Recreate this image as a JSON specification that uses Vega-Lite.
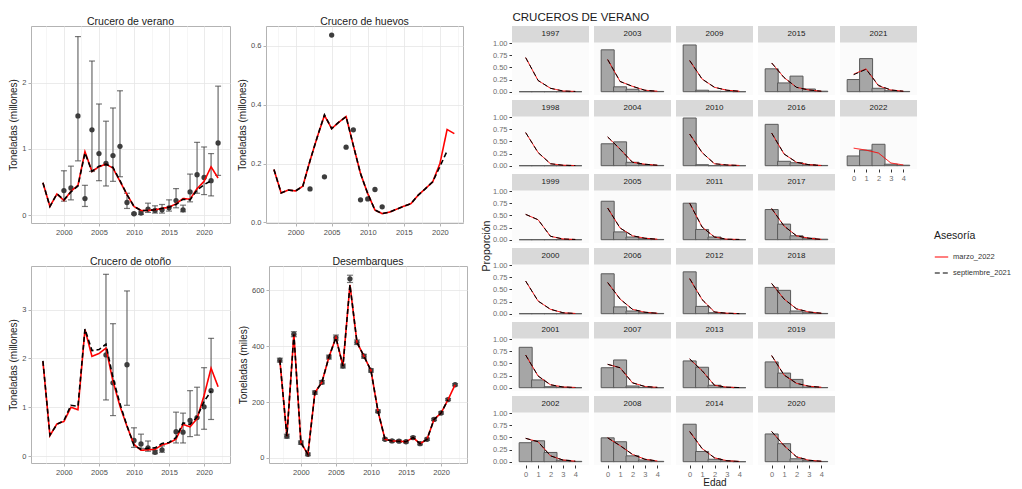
{
"$schema":"https://vega.github.io/schema/vega-lite/v6.json",
"padding":{"left":8,"top":11,"right":5,"bottom":0},
"background":"white",
"config":{
 "font":"Liberation Sans",
 "view":{"stroke":"#B3B3B3","strokeWidth":1,"fill":"white"},
 "axis":{"grid":true,"domain":false,"tickColor":"#B3B3B3","tickSize":3,"labelFontSize":7.5,"labelColor":"#4D4D4D","labelPadding":2,"titleFontSize":10,"titleFontWeight":"normal","titleColor":"#1A1A1A","titlePadding":3,"gridWidth":0.8},
 "title":{"fontSize":10.5,"fontWeight":"normal","color":"#1A1A1A","offset":-1,"anchor":"middle"},
 "header":{"titleFontSize":10.5,"titleFontWeight":"normal","titleColor":"#1A1A1A","titlePadding":-10,"labelPadding":0},
 "legend":{"titleFontSize":10.5,"titleFontWeight":"normal","titleColor":"#1A1A1A","labelFontSize":7.5,"labelColor":"#333333","symbolStrokeWidth":1.2,"symbolSize":180,"rowPadding":5,"titlePadding":8}
},
"datasets":{
"series":[
{"panel":"verano","year":1997,"marzo_2022":0.49,"septiembre_2021":0.49},
{"panel":"verano","year":1998,"marzo_2022":0.13,"septiembre_2021":0.13},
{"panel":"verano","year":1999,"marzo_2022":0.32,"septiembre_2021":0.32},
{"panel":"verano","year":2000,"marzo_2022":0.22,"septiembre_2021":0.23,"obs":0.37,"lo":0.21,"hi":0.67},
{"panel":"verano","year":2001,"marzo_2022":0.36,"septiembre_2021":0.35,"obs":0.41,"lo":0.23,"hi":0.74},
{"panel":"verano","year":2002,"marzo_2022":0.45,"septiembre_2021":0.44,"obs":1.5,"lo":0.82,"hi":2.7},
{"panel":"verano","year":2003,"marzo_2022":0.96,"septiembre_2021":0.94,"obs":0.25,"lo":0.13,"hi":0.45},
{"panel":"verano","year":2004,"marzo_2022":0.66,"septiembre_2021":0.66,"obs":1.29,"lo":0.66,"hi":2.33},
{"panel":"verano","year":2005,"marzo_2022":0.73,"septiembre_2021":0.74,"obs":0.93,"lo":0.52,"hi":1.68},
{"panel":"verano","year":2006,"marzo_2022":0.77,"septiembre_2021":0.77,"obs":0.78,"lo":0.44,"hi":1.42},
{"panel":"verano","year":2007,"marzo_2022":0.71,"septiembre_2021":0.72,"obs":0.9,"lo":0.51,"hi":1.62},
{"panel":"verano","year":2008,"marzo_2022":0.51,"septiembre_2021":0.52,"obs":1.04,"lo":0.58,"hi":1.88},
{"panel":"verano","year":2009,"marzo_2022":0.31,"septiembre_2021":0.31,"obs":0.19,"lo":0.1,"hi":0.33},
{"panel":"verano","year":2010,"marzo_2022":0.13,"septiembre_2021":0.13,"obs":0.02,"lo":0.01,"hi":0.03},
{"panel":"verano","year":2011,"marzo_2022":0.07,"septiembre_2021":0.07,"obs":0.03,"lo":0.01,"hi":0.06},
{"panel":"verano","year":2012,"marzo_2022":0.07,"septiembre_2021":0.07,"obs":0.09,"lo":0.04,"hi":0.18},
{"panel":"verano","year":2013,"marzo_2022":0.08,"septiembre_2021":0.08,"obs":0.07,"lo":0.03,"hi":0.14},
{"panel":"verano","year":2014,"marzo_2022":0.1,"septiembre_2021":0.1,"obs":0.08,"lo":0.03,"hi":0.16},
{"panel":"verano","year":2015,"marzo_2022":0.12,"septiembre_2021":0.12,"obs":0.11,"lo":0.06,"hi":0.23},
{"panel":"verano","year":2016,"marzo_2022":0.17,"septiembre_2021":0.16,"obs":0.22,"lo":0.11,"hi":0.4},
{"panel":"verano","year":2017,"marzo_2022":0.25,"septiembre_2021":0.24,"obs":0.08,"lo":0.05,"hi":0.15},
{"panel":"verano","year":2018,"marzo_2022":0.24,"septiembre_2021":0.23,"obs":0.35,"lo":0.2,"hi":0.62},
{"panel":"verano","year":2019,"marzo_2022":0.4,"septiembre_2021":0.38,"obs":0.61,"lo":0.33,"hi":1.1},
{"panel":"verano","year":2020,"marzo_2022":0.51,"septiembre_2021":0.46,"obs":0.57,"lo":0.31,"hi":1.03},
{"panel":"verano","year":2021,"marzo_2022":0.73,"septiembre_2021":0.52,"obs":0.52,"lo":0.29,"hi":0.93},
{"panel":"verano","year":2022,"marzo_2022":0.56,"septiembre_2021":null,"obs":1.09,"lo":0.6,"hi":1.95},
{"panel":"huevos","year":1997,"marzo_2022":0.18,"septiembre_2021":0.18},
{"panel":"huevos","year":1998,"marzo_2022":0.1,"septiembre_2021":0.1},
{"panel":"huevos","year":1999,"marzo_2022":0.11,"septiembre_2021":0.11},
{"panel":"huevos","year":2000,"marzo_2022":0.107,"septiembre_2021":0.107},
{"panel":"huevos","year":2001,"marzo_2022":0.123,"septiembre_2021":0.123},
{"panel":"huevos","year":2002,"marzo_2022":0.21,"septiembre_2021":0.21,"obs":0.114},
{"panel":"huevos","year":2003,"marzo_2022":0.29,"septiembre_2021":0.29},
{"panel":"huevos","year":2004,"marzo_2022":0.364,"septiembre_2021":0.366,"obs":0.155},
{"panel":"huevos","year":2005,"marzo_2022":0.319,"septiembre_2021":0.319,"obs":0.637},
{"panel":"huevos","year":2006,"marzo_2022":0.341,"septiembre_2021":0.341},
{"panel":"huevos","year":2007,"marzo_2022":0.36,"septiembre_2021":0.36,"obs":0.256},
{"panel":"huevos","year":2008,"marzo_2022":0.262,"septiembre_2021":0.262,"obs":0.315},
{"panel":"huevos","year":2009,"marzo_2022":0.166,"septiembre_2021":0.166,"obs":0.077},
{"panel":"huevos","year":2010,"marzo_2022":0.098,"septiembre_2021":0.098,"obs":0.08},
{"panel":"huevos","year":2011,"marzo_2022":0.042,"septiembre_2021":0.042,"obs":0.112},
{"panel":"huevos","year":2012,"marzo_2022":0.03,"septiembre_2021":0.03,"obs":0.053},
{"panel":"huevos","year":2013,"marzo_2022":0.035,"septiembre_2021":0.035},
{"panel":"huevos","year":2014,"marzo_2022":0.045,"septiembre_2021":0.045},
{"panel":"huevos","year":2015,"marzo_2022":0.055,"septiembre_2021":0.055},
{"panel":"huevos","year":2016,"marzo_2022":0.064,"septiembre_2021":0.064},
{"panel":"huevos","year":2017,"marzo_2022":0.093,"septiembre_2021":0.093},
{"panel":"huevos","year":2018,"marzo_2022":0.115,"septiembre_2021":0.115},
{"panel":"huevos","year":2019,"marzo_2022":0.138,"septiembre_2021":0.138},
{"panel":"huevos","year":2020,"marzo_2022":0.2,"septiembre_2021":0.19},
{"panel":"huevos","year":2021,"marzo_2022":0.316,"septiembre_2021":0.243},
{"panel":"huevos","year":2022,"marzo_2022":0.302,"septiembre_2021":null},
{"panel":"otono","year":1997,"marzo_2022":1.94,"septiembre_2021":1.95},
{"panel":"otono","year":1998,"marzo_2022":0.42,"septiembre_2021":0.43},
{"panel":"otono","year":1999,"marzo_2022":0.66,"septiembre_2021":0.65},
{"panel":"otono","year":2000,"marzo_2022":0.71,"septiembre_2021":0.73},
{"panel":"otono","year":2001,"marzo_2022":1.0,"septiembre_2021":1.04},
{"panel":"otono","year":2002,"marzo_2022":0.95,"septiembre_2021":1.02},
{"panel":"otono","year":2003,"marzo_2022":2.59,"septiembre_2021":2.6},
{"panel":"otono","year":2004,"marzo_2022":2.04,"septiembre_2021":2.16},
{"panel":"otono","year":2005,"marzo_2022":2.1,"septiembre_2021":2.18},
{"panel":"otono","year":2006,"marzo_2022":2.21,"septiembre_2021":2.29,"obs":2.07,"lo":1.15,"hi":3.72},
{"panel":"otono","year":2007,"marzo_2022":1.53,"septiembre_2021":1.6,"obs":1.5,"lo":0.83,"hi":2.71},
{"panel":"otono","year":2008,"marzo_2022":1.02,"septiembre_2021":1.07},
{"panel":"otono","year":2009,"marzo_2022":0.61,"septiembre_2021":0.62,"obs":1.87,"lo":1.04,"hi":3.38},
{"panel":"otono","year":2010,"marzo_2022":0.24,"septiembre_2021":0.22,"obs":0.32,"lo":0.18,"hi":0.58},
{"panel":"otono","year":2011,"marzo_2022":0.12,"septiembre_2021":0.14,"obs":0.25,"lo":0.16,"hi":0.45},
{"panel":"otono","year":2012,"marzo_2022":0.13,"septiembre_2021":0.16,"obs":0.17,"lo":0.1,"hi":0.31},
{"panel":"otono","year":2013,"marzo_2022":0.14,"septiembre_2021":0.17,"obs":0.08,"lo":0.05,"hi":0.12},
{"panel":"otono","year":2014,"marzo_2022":0.23,"septiembre_2021":0.26,"obs":0.13,"lo":0.08,"hi":0.21},
{"panel":"otono","year":2015,"marzo_2022":0.27,"septiembre_2021":0.28},
{"panel":"otono","year":2016,"marzo_2022":0.35,"septiembre_2021":0.38,"obs":0.5,"lo":0.27,"hi":0.9},
{"panel":"otono","year":2017,"marzo_2022":0.65,"septiembre_2021":0.68,"obs":0.49,"lo":0.27,"hi":0.88},
{"panel":"otono","year":2018,"marzo_2022":0.6,"septiembre_2021":0.65,"obs":0.73,"lo":0.4,"hi":1.34},
{"panel":"otono","year":2019,"marzo_2022":0.77,"septiembre_2021":0.8,"obs":0.79,"lo":0.43,"hi":1.41},
{"panel":"otono","year":2020,"marzo_2022":1.24,"septiembre_2021":1.12,"obs":1.01,"lo":0.55,"hi":1.81},
{"panel":"otono","year":2021,"marzo_2022":1.8,"septiembre_2021":1.33,"obs":1.34,"lo":0.75,"hi":2.41},
{"panel":"otono","year":2022,"marzo_2022":1.42,"septiembre_2021":null},
{"panel":"desemb","year":1997,"marzo_2022":350,"septiembre_2021":350,"obs":350,"lo":343,"hi":357},
{"panel":"desemb","year":1998,"marzo_2022":78,"septiembre_2021":78,"obs":78,"lo":71,"hi":85},
{"panel":"desemb","year":1999,"marzo_2022":443,"septiembre_2021":443,"obs":443,"lo":434,"hi":452},
{"panel":"desemb","year":2000,"marzo_2022":55,"septiembre_2021":55,"obs":55,"lo":49,"hi":61},
{"panel":"desemb","year":2001,"marzo_2022":13,"septiembre_2021":13,"obs":13,"lo":8,"hi":18},
{"panel":"desemb","year":2002,"marzo_2022":234,"septiembre_2021":234,"obs":234,"lo":228,"hi":240},
{"panel":"desemb","year":2003,"marzo_2022":271,"septiembre_2021":271,"obs":271,"lo":265,"hi":277},
{"panel":"desemb","year":2004,"marzo_2022":361,"septiembre_2021":361,"obs":361,"lo":354,"hi":368},
{"panel":"desemb","year":2005,"marzo_2022":431,"septiembre_2021":431,"obs":431,"lo":422,"hi":440},
{"panel":"desemb","year":2006,"marzo_2022":329,"septiembre_2021":329,"obs":329,"lo":322,"hi":336},
{"panel":"desemb","year":2007,"marzo_2022":620,"septiembre_2021":620,"obs":641,"lo":628,"hi":654},
{"panel":"desemb","year":2008,"marzo_2022":414,"septiembre_2021":414,"obs":414,"lo":406,"hi":422},
{"panel":"desemb","year":2009,"marzo_2022":364,"septiembre_2021":364,"obs":364,"lo":357,"hi":371},
{"panel":"desemb","year":2010,"marzo_2022":313,"septiembre_2021":313,"obs":313,"lo":307,"hi":319},
{"panel":"desemb","year":2011,"marzo_2022":167,"septiembre_2021":167,"obs":167,"lo":162,"hi":172},
{"panel":"desemb","year":2012,"marzo_2022":67,"septiembre_2021":67,"obs":67,"lo":63,"hi":71},
{"panel":"desemb","year":2013,"marzo_2022":61,"septiembre_2021":61,"obs":61,"lo":57,"hi":65},
{"panel":"desemb","year":2014,"marzo_2022":60,"septiembre_2021":60,"obs":60,"lo":56,"hi":64},
{"panel":"desemb","year":2015,"marzo_2022":58,"septiembre_2021":58,"obs":58,"lo":54,"hi":62},
{"panel":"desemb","year":2016,"marzo_2022":73,"septiembre_2021":73,"obs":73,"lo":69,"hi":77},
{"panel":"desemb","year":2017,"marzo_2022":51,"septiembre_2021":51,"obs":51,"lo":47,"hi":55},
{"panel":"desemb","year":2018,"marzo_2022":67,"septiembre_2021":67,"obs":67,"lo":63,"hi":71},
{"panel":"desemb","year":2019,"marzo_2022":138,"septiembre_2021":138,"obs":138,"lo":134,"hi":142},
{"panel":"desemb","year":2020,"marzo_2022":161,"septiembre_2021":161,"obs":161,"lo":157,"hi":165},
{"panel":"desemb","year":2021,"marzo_2022":209,"septiembre_2021":209,"obs":209,"lo":205,"hi":213},
{"panel":"desemb","year":2022,"marzo_2022":262,"septiembre_2021":null,"obs":262,"lo":258,"hi":266}
],
"edad":[
{"year":1997,"age":0,"obs":0,"marzo_2022":0.70,"septiembre_2021":0.70},
{"year":1997,"age":1,"obs":0,"marzo_2022":0.23,"septiembre_2021":0.23},
{"year":1997,"age":2,"obs":0,"marzo_2022":0.07,"septiembre_2021":0.07},
{"year":1997,"age":3,"obs":0,"marzo_2022":0.015,"septiembre_2021":0.015},
{"year":1997,"age":4,"obs":0,"marzo_2022":0.005,"septiembre_2021":0.005},
{"year":1998,"age":0,"obs":0,"marzo_2022":0.68,"septiembre_2021":0.68},
{"year":1998,"age":1,"obs":0,"marzo_2022":0.27,"septiembre_2021":0.27},
{"year":1998,"age":2,"obs":0,"marzo_2022":0.04,"septiembre_2021":0.04},
{"year":1998,"age":3,"obs":0,"marzo_2022":0.01,"septiembre_2021":0.01},
{"year":1998,"age":4,"obs":0,"marzo_2022":0.003,"septiembre_2021":0.003},
{"year":1999,"age":0,"obs":0,"marzo_2022":0.52,"septiembre_2021":0.52},
{"year":1999,"age":1,"obs":0,"marzo_2022":0.41,"septiembre_2021":0.41},
{"year":1999,"age":2,"obs":0,"marzo_2022":0.07,"septiembre_2021":0.07},
{"year":1999,"age":3,"obs":0,"marzo_2022":0.015,"septiembre_2021":0.015},
{"year":1999,"age":4,"obs":0,"marzo_2022":0.005,"septiembre_2021":0.005},
{"year":2000,"age":0,"obs":0,"marzo_2022":0.67,"septiembre_2021":0.67},
{"year":2000,"age":1,"obs":0,"marzo_2022":0.26,"septiembre_2021":0.26},
{"year":2000,"age":2,"obs":0,"marzo_2022":0.09,"septiembre_2021":0.09},
{"year":2000,"age":3,"obs":0,"marzo_2022":0.02,"septiembre_2021":0.02},
{"year":2000,"age":4,"obs":0,"marzo_2022":0.005,"septiembre_2021":0.005},
{"year":2001,"age":0,"obs":0.83,"marzo_2022":0.67,"septiembre_2021":0.67},
{"year":2001,"age":1,"obs":0.16,"marzo_2022":0.24,"septiembre_2021":0.24},
{"year":2001,"age":2,"obs":0.02,"marzo_2022":0.06,"septiembre_2021":0.06},
{"year":2001,"age":3,"obs":0.007,"marzo_2022":0.015,"septiembre_2021":0.015},
{"year":2001,"age":4,"obs":0,"marzo_2022":0.005,"septiembre_2021":0.005},
{"year":2002,"age":0,"obs":0.39,"marzo_2022":0.48,"septiembre_2021":0.48},
{"year":2002,"age":1,"obs":0.43,"marzo_2022":0.41,"septiembre_2021":0.41},
{"year":2002,"age":2,"obs":0.19,"marzo_2022":0.12,"septiembre_2021":0.12},
{"year":2002,"age":3,"obs":0.03,"marzo_2022":0.035,"septiembre_2021":0.035},
{"year":2002,"age":4,"obs":0.007,"marzo_2022":0.01,"septiembre_2021":0.01},
{"year":2003,"age":0,"obs":0.86,"marzo_2022":0.66,"septiembre_2021":0.66},
{"year":2003,"age":1,"obs":0.10,"marzo_2022":0.21,"septiembre_2021":0.21},
{"year":2003,"age":2,"obs":0.05,"marzo_2022":0.11,"septiembre_2021":0.11},
{"year":2003,"age":3,"obs":0.01,"marzo_2022":0.03,"septiembre_2021":0.03},
{"year":2003,"age":4,"obs":0.005,"marzo_2022":0.01,"septiembre_2021":0.01},
{"year":2004,"age":0,"obs":0.45,"marzo_2022":0.59,"septiembre_2021":0.59},
{"year":2004,"age":1,"obs":0.49,"marzo_2022":0.34,"septiembre_2021":0.34},
{"year":2004,"age":2,"obs":0.07,"marzo_2022":0.07,"septiembre_2021":0.07},
{"year":2004,"age":3,"obs":0.02,"marzo_2022":0.03,"septiembre_2021":0.03},
{"year":2004,"age":4,"obs":0.005,"marzo_2022":0.01,"septiembre_2021":0.01},
{"year":2005,"age":0,"obs":0.79,"marzo_2022":0.65,"septiembre_2021":0.65},
{"year":2005,"age":1,"obs":0.16,"marzo_2022":0.24,"septiembre_2021":0.24},
{"year":2005,"age":2,"obs":0.055,"marzo_2022":0.08,"septiembre_2021":0.08},
{"year":2005,"age":3,"obs":0.02,"marzo_2022":0.03,"septiembre_2021":0.03},
{"year":2005,"age":4,"obs":0.005,"marzo_2022":0.01,"septiembre_2021":0.01},
{"year":2006,"age":0,"obs":0.82,"marzo_2022":0.64,"septiembre_2021":0.64},
{"year":2006,"age":1,"obs":0.14,"marzo_2022":0.30,"septiembre_2021":0.30},
{"year":2006,"age":2,"obs":0.055,"marzo_2022":0.09,"septiembre_2021":0.09},
{"year":2006,"age":3,"obs":0.02,"marzo_2022":0.03,"septiembre_2021":0.03},
{"year":2006,"age":4,"obs":0.005,"marzo_2022":0.01,"septiembre_2021":0.01},
{"year":2007,"age":0,"obs":0.41,"marzo_2022":0.48,"septiembre_2021":0.48},
{"year":2007,"age":1,"obs":0.57,"marzo_2022":0.41,"septiembre_2021":0.41},
{"year":2007,"age":2,"obs":0.035,"marzo_2022":0.10,"septiembre_2021":0.10},
{"year":2007,"age":3,"obs":0.007,"marzo_2022":0.025,"septiembre_2021":0.025},
{"year":2007,"age":4,"obs":0,"marzo_2022":0.007,"septiembre_2021":0.007},
{"year":2008,"age":0,"obs":0.49,"marzo_2022":0.49,"septiembre_2021":0.49},
{"year":2008,"age":1,"obs":0.41,"marzo_2022":0.33,"septiembre_2021":0.33},
{"year":2008,"age":2,"obs":0.12,"marzo_2022":0.15,"septiembre_2021":0.15},
{"year":2008,"age":3,"obs":0.035,"marzo_2022":0.05,"septiembre_2021":0.05},
{"year":2008,"age":4,"obs":0.007,"marzo_2022":0.015,"septiembre_2021":0.015},
{"year":2009,"age":0,"obs":0.96,"marzo_2022":0.64,"septiembre_2021":0.64},
{"year":2009,"age":1,"obs":0.03,"marzo_2022":0.26,"septiembre_2021":0.26},
{"year":2009,"age":2,"obs":0.01,"marzo_2022":0.09,"septiembre_2021":0.09},
{"year":2009,"age":3,"obs":0.005,"marzo_2022":0.03,"septiembre_2021":0.03},
{"year":2009,"age":4,"obs":0,"marzo_2022":0.01,"septiembre_2021":0.01},
{"year":2010,"age":0,"obs":0.98,"marzo_2022":0.65,"septiembre_2021":0.65},
{"year":2010,"age":1,"obs":0.02,"marzo_2022":0.27,"septiembre_2021":0.27},
{"year":2010,"age":2,"obs":0,"marzo_2022":0.04,"septiembre_2021":0.04},
{"year":2010,"age":3,"obs":0,"marzo_2022":0.015,"septiembre_2021":0.015},
{"year":2010,"age":4,"obs":0,"marzo_2022":0.005,"septiembre_2021":0.005},
{"year":2011,"age":0,"obs":0.75,"marzo_2022":0.75,"septiembre_2021":0.75},
{"year":2011,"age":1,"obs":0.21,"marzo_2022":0.26,"septiembre_2021":0.26},
{"year":2011,"age":2,"obs":0.055,"marzo_2022":0.055,"septiembre_2021":0.055},
{"year":2011,"age":3,"obs":0.005,"marzo_2022":0.01,"septiembre_2021":0.01},
{"year":2011,"age":4,"obs":0,"marzo_2022":0.005,"septiembre_2021":0.005},
{"year":2012,"age":0,"obs":0.86,"marzo_2022":0.72,"septiembre_2021":0.72},
{"year":2012,"age":1,"obs":0.15,"marzo_2022":0.29,"septiembre_2021":0.29},
{"year":2012,"age":2,"obs":0.02,"marzo_2022":0.035,"septiembre_2021":0.035},
{"year":2012,"age":3,"obs":0.005,"marzo_2022":0.01,"septiembre_2021":0.01},
{"year":2012,"age":4,"obs":0,"marzo_2022":0.002,"septiembre_2021":0.002},
{"year":2013,"age":0,"obs":0.55,"marzo_2022":0.59,"septiembre_2021":0.59},
{"year":2013,"age":1,"obs":0.42,"marzo_2022":0.35,"septiembre_2021":0.35},
{"year":2013,"age":2,"obs":0.05,"marzo_2022":0.05,"septiembre_2021":0.05},
{"year":2013,"age":3,"obs":0.007,"marzo_2022":0.01,"septiembre_2021":0.01},
{"year":2013,"age":4,"obs":0,"marzo_2022":0.003,"septiembre_2021":0.003},
{"year":2014,"age":0,"obs":0.77,"marzo_2022":0.62,"septiembre_2021":0.62},
{"year":2014,"age":1,"obs":0.21,"marzo_2022":0.27,"septiembre_2021":0.27},
{"year":2014,"age":2,"obs":0.05,"marzo_2022":0.08,"septiembre_2021":0.08},
{"year":2014,"age":3,"obs":0.015,"marzo_2022":0.02,"septiembre_2021":0.02},
{"year":2014,"age":4,"obs":0,"marzo_2022":0.005,"septiembre_2021":0.005},
{"year":2015,"age":0,"obs":0.47,"marzo_2022":0.59,"septiembre_2021":0.59},
{"year":2015,"age":1,"obs":0.18,"marzo_2022":0.29,"septiembre_2021":0.29},
{"year":2015,"age":2,"obs":0.32,"marzo_2022":0.09,"septiembre_2021":0.09},
{"year":2015,"age":3,"obs":0.055,"marzo_2022":0.035,"septiembre_2021":0.035},
{"year":2015,"age":4,"obs":0.01,"marzo_2022":0.01,"septiembre_2021":0.01},
{"year":2016,"age":0,"obs":0.85,"marzo_2022":0.67,"septiembre_2021":0.67},
{"year":2016,"age":1,"obs":0.09,"marzo_2022":0.24,"septiembre_2021":0.24},
{"year":2016,"age":2,"obs":0.06,"marzo_2022":0.07,"septiembre_2021":0.07},
{"year":2016,"age":3,"obs":0.02,"marzo_2022":0.02,"septiembre_2021":0.02},
{"year":2016,"age":4,"obs":0.005,"marzo_2022":0.005,"septiembre_2021":0.005},
{"year":2017,"age":0,"obs":0.62,"marzo_2022":0.64,"septiembre_2021":0.64},
{"year":2017,"age":1,"obs":0.32,"marzo_2022":0.28,"septiembre_2021":0.28},
{"year":2017,"age":2,"obs":0.08,"marzo_2022":0.08,"septiembre_2021":0.08},
{"year":2017,"age":3,"obs":0.03,"marzo_2022":0.03,"septiembre_2021":0.03},
{"year":2017,"age":4,"obs":0.01,"marzo_2022":0.005,"septiembre_2021":0.005},
{"year":2018,"age":0,"obs":0.54,"marzo_2022":0.62,"septiembre_2021":0.62},
{"year":2018,"age":1,"obs":0.48,"marzo_2022":0.30,"septiembre_2021":0.30},
{"year":2018,"age":2,"obs":0.055,"marzo_2022":0.10,"septiembre_2021":0.10},
{"year":2018,"age":3,"obs":0.02,"marzo_2022":0.035,"septiembre_2021":0.035},
{"year":2018,"age":4,"obs":0.005,"marzo_2022":0.01,"septiembre_2021":0.01},
{"year":2019,"age":0,"obs":0.53,"marzo_2022":0.66,"septiembre_2021":0.66},
{"year":2019,"age":1,"obs":0.30,"marzo_2022":0.26,"septiembre_2021":0.26},
{"year":2019,"age":2,"obs":0.17,"marzo_2022":0.09,"septiembre_2021":0.09},
{"year":2019,"age":3,"obs":0.015,"marzo_2022":0.03,"septiembre_2021":0.03},
{"year":2019,"age":4,"obs":0.003,"marzo_2022":0.01,"septiembre_2021":0.01},
{"year":2020,"age":0,"obs":0.57,"marzo_2022":0.62,"septiembre_2021":0.62},
{"year":2020,"age":1,"obs":0.37,"marzo_2022":0.33,"septiembre_2021":0.33},
{"year":2020,"age":2,"obs":0.06,"marzo_2022":0.10,"septiembre_2021":0.10},
{"year":2020,"age":3,"obs":0.02,"marzo_2022":0.03,"septiembre_2021":0.03},
{"year":2020,"age":4,"obs":0.005,"marzo_2022":0.01,"septiembre_2021":0.01},
{"year":2021,"age":0,"obs":0.25,"marzo_2022":0.36,"septiembre_2021":0.35},
{"year":2021,"age":1,"obs":0.68,"marzo_2022":0.47,"septiembre_2021":0.46},
{"year":2021,"age":2,"obs":0.07,"marzo_2022":0.12,"septiembre_2021":0.13},
{"year":2021,"age":3,"obs":0.02,"marzo_2022":0.035,"septiembre_2021":0.035},
{"year":2021,"age":4,"obs":0.005,"marzo_2022":0.01,"septiembre_2021":0.01},
{"year":2022,"age":0,"obs":0.20,"marzo_2022":0.36,"septiembre_2021":null},
{"year":2022,"age":1,"obs":0.32,"marzo_2022":0.32,"septiembre_2021":null},
{"year":2022,"age":2,"obs":0.44,"marzo_2022":0.26,"septiembre_2021":null},
{"year":2022,"age":3,"obs":0.03,"marzo_2022":0.055,"septiembre_2021":null},
{"year":2022,"age":4,"obs":0.01,"marzo_2022":0.015,"septiembre_2021":null}
]
},
"spacing":13,
"hconcat":[
{
 "data":{"name":"series"},
 "spacing":20,
 "vconcat":[
  {"spacing":6,"hconcat":[
   {"title":"Crucero de verano","width":199,"height":197,
    "transform":[{"filter":"datum.panel == 'verano'"}],
    "encoding":{"x":{"field":"year","type":"quantitative","scale":{"domain":[1995.3,2023.7],"nice":false,"zero":false},
      "axis":{"title":null,"values":[1997.5,2000,2002.5,2005,2007.5,2010,2012.5,2015,2017.5,2020,2022.5],"format":"d","labelExpr":"datum.value % 5 == 0 ? datum.label : ''","gridColor":{"condition":{"test":"datum.value % 5 == 0","value":"#E6E6E6"},"value":"#F4F4F4"},"tickOpacity":{"condition":{"test":"datum.value % 5 == 0","value":1},"value":0}}}},
    "layer":[
     {"transform":[{"filter":"datum.obs != null"}],"mark":{"type":"rule","color":"#6B6B6B","strokeWidth":1.2},
      "encoding":{"y":{"field":"lo","type":"quantitative","scale":{"domain":[-0.12,2.86],"nice":false,"zero":false},
        "axis":{"title":"Toneladas (millones)","values":[0,0.5,1,1.5,2,2.5],"format":"d","labelExpr":"datum.value % 1 == 0 ? datum.label : ''","gridColor":{"condition":{"test":"datum.value % 1 == 0","value":"#E6E6E6"},"value":"#F4F4F4"},"tickOpacity":{"condition":{"test":"datum.value % 1 == 0","value":1},"value":0}}},
       "y2":{"field":"hi"}}},
     {"transform":[{"filter":"datum.obs != null"}],"mark":{"type":"tick","orient":"horizontal","size":6,"thickness":1.2,"color":"#404040"},"encoding":{"y":{"field":"lo","type":"quantitative"}}},
     {"transform":[{"filter":"datum.obs != null"}],"mark":{"type":"tick","orient":"horizontal","size":6,"thickness":1.2,"color":"#404040"},"encoding":{"y":{"field":"hi","type":"quantitative"}}},
     {"transform":[{"filter":"datum.obs != null"}],"mark":{"type":"circle","size":28,"color":"#3D3D3D","opacity":1},"encoding":{"y":{"field":"obs","type":"quantitative"}}},
     {"transform":[{"fold":["marzo_2022","septiembre_2021"],"as":["asesoria","valor"]},{"filter":"datum.valor != null"}],
      "mark":{"type":"line","strokeWidth":1.6},
      "encoding":{"y":{"field":"valor","type":"quantitative"},
       "color":{"field":"asesoria","type":"nominal","scale":{"domain":["marzo_2022","septiembre_2021"],"range":["#FF0000","#000000"]},"legend":{"title":"Asesoría","orient":"none","legendX":903,"legendY":205}},
       "strokeDash":{"field":"asesoria","type":"nominal","scale":{"domain":["marzo_2022","septiembre_2021"],"range":[[1,0],[5,3]]},"legend":{"title":"Asesoría","orient":"none","legendX":903,"legendY":205}}}}
    ]},
   {"title":"Crucero de huevos","width":197,"height":197,
    "transform":[{"filter":"datum.panel == 'huevos'"}],
    "encoding":{"x":{"field":"year","type":"quantitative","scale":{"domain":[1995.9,2023.2],"nice":false,"zero":false},
      "axis":{"title":null,"values":[1997.5,2000,2002.5,2005,2007.5,2010,2012.5,2015,2017.5,2020,2022.5],"format":"d","labelExpr":"datum.value % 5 == 0 ? datum.label : ''","gridColor":{"condition":{"test":"datum.value % 5 == 0","value":"#E6E6E6"},"value":"#F4F4F4"},"tickOpacity":{"condition":{"test":"datum.value % 5 == 0","value":1},"value":0}}}},
    "layer":[
     {"transform":[{"filter":"datum.obs != null"}],"mark":{"type":"circle","size":28,"color":"#3D3D3D","opacity":1},
      "encoding":{"y":{"field":"obs","type":"quantitative","scale":{"domain":[-0.002,0.668],"nice":false,"zero":false},
        "axis":{"title":"Toneladas (millones)","values":[0,0.1,0.2,0.3,0.4,0.5,0.6],"format":".1f","labelExpr":"round(datum.value*10) % 2 == 0 ? datum.label : ''","gridColor":{"condition":{"test":"round(datum.value*10) % 2 == 0","value":"#E6E6E6"},"value":"#F4F4F4"},"tickOpacity":{"condition":{"test":"round(datum.value*10) % 2 == 0","value":1},"value":0}}}}},
     {"transform":[{"fold":["marzo_2022","septiembre_2021"],"as":["asesoria","valor"]},{"filter":"datum.valor != null"}],
      "mark":{"type":"line","strokeWidth":1.6},
      "encoding":{"y":{"field":"valor","type":"quantitative"},
       "color":{"field":"asesoria","type":"nominal","legend":{"title":"Asesoría","orient":"none","legendX":903,"legendY":205}},
       "strokeDash":{"field":"asesoria","type":"nominal","legend":{"title":"Asesoría","orient":"none","legendX":903,"legendY":205}}}}
    ]}
  ]},
  {"spacing":6,"hconcat":[
   {"title":"Crucero de otoño","width":199,"height":197,
    "transform":[{"filter":"datum.panel == 'otono'"}],
    "encoding":{"x":{"field":"year","type":"quantitative","scale":{"domain":[1995.3,2023.7],"nice":false,"zero":false},
      "axis":{"title":null,"values":[1997.5,2000,2002.5,2005,2007.5,2010,2012.5,2015,2017.5,2020,2022.5],"format":"d","labelExpr":"datum.value % 5 == 0 ? datum.label : ''","gridColor":{"condition":{"test":"datum.value % 5 == 0","value":"#E6E6E6"},"value":"#F4F4F4"},"tickOpacity":{"condition":{"test":"datum.value % 5 == 0","value":1},"value":0}}}},
    "layer":[
     {"transform":[{"filter":"datum.obs != null"}],"mark":{"type":"rule","color":"#6B6B6B","strokeWidth":1.2},
      "encoding":{"y":{"field":"lo","type":"quantitative","scale":{"domain":[-0.14,3.89],"nice":false,"zero":false},
        "axis":{"title":"Toneladas (millones)","values":[0,0.5,1,1.5,2,2.5,3,3.5],"format":"d","labelExpr":"datum.value % 1 == 0 ? datum.label : ''","gridColor":{"condition":{"test":"datum.value % 1 == 0","value":"#E6E6E6"},"value":"#F4F4F4"},"tickOpacity":{"condition":{"test":"datum.value % 1 == 0","value":1},"value":0}}},
       "y2":{"field":"hi"}}},
     {"transform":[{"filter":"datum.obs != null"}],"mark":{"type":"tick","orient":"horizontal","size":6,"thickness":1.2,"color":"#404040"},"encoding":{"y":{"field":"lo","type":"quantitative"}}},
     {"transform":[{"filter":"datum.obs != null"}],"mark":{"type":"tick","orient":"horizontal","size":6,"thickness":1.2,"color":"#404040"},"encoding":{"y":{"field":"hi","type":"quantitative"}}},
     {"transform":[{"filter":"datum.obs != null"}],"mark":{"type":"circle","size":28,"color":"#3D3D3D","opacity":1},"encoding":{"y":{"field":"obs","type":"quantitative"}}},
     {"transform":[{"fold":["marzo_2022","septiembre_2021"],"as":["asesoria","valor"]},{"filter":"datum.valor != null"}],
      "mark":{"type":"line","strokeWidth":1.6},
      "encoding":{"y":{"field":"valor","type":"quantitative"},
       "color":{"field":"asesoria","type":"nominal","legend":{"title":"Asesoría","orient":"none","legendX":903,"legendY":205}},
       "strokeDash":{"field":"asesoria","type":"nominal","legend":{"title":"Asesoría","orient":"none","legendX":903,"legendY":205}}}}
    ]},
   {"title":"Desembarques","width":198,"height":197,
    "transform":[{"filter":"datum.panel == 'desemb'"}],
    "encoding":{"x":{"field":"year","type":"quantitative","scale":{"domain":[1995.45,2023.7],"nice":false,"zero":false},
      "axis":{"title":null,"values":[1997.5,2000,2002.5,2005,2007.5,2010,2012.5,2015,2017.5,2020,2022.5],"format":"d","labelExpr":"datum.value % 5 == 0 ? datum.label : ''","gridColor":{"condition":{"test":"datum.value % 5 == 0","value":"#E6E6E6"},"value":"#F4F4F4"},"tickOpacity":{"condition":{"test":"datum.value % 5 == 0","value":1},"value":0}}}},
    "layer":[
     {"transform":[{"filter":"datum.obs != null"}],"mark":{"type":"rule","color":"#6B6B6B","strokeWidth":1.2},
      "encoding":{"y":{"field":"lo","type":"quantitative","scale":{"domain":[-18,687],"nice":false,"zero":false},
        "axis":{"title":"Toneladas (miles)","values":[0,100,200,300,400,500,600],"format":"d","labelExpr":"datum.value % 200 == 0 ? datum.label : ''","gridColor":{"condition":{"test":"datum.value % 200 == 0","value":"#E6E6E6"},"value":"#F4F4F4"},"tickOpacity":{"condition":{"test":"datum.value % 200 == 0","value":1},"value":0}}},
       "y2":{"field":"hi"}}},
     {"transform":[{"filter":"datum.obs != null"}],"mark":{"type":"tick","orient":"horizontal","size":6,"thickness":1.2,"color":"#404040"},"encoding":{"y":{"field":"lo","type":"quantitative"}}},
     {"transform":[{"filter":"datum.obs != null"}],"mark":{"type":"tick","orient":"horizontal","size":6,"thickness":1.2,"color":"#404040"},"encoding":{"y":{"field":"hi","type":"quantitative"}}},
     {"transform":[{"filter":"datum.obs != null"}],"mark":{"type":"circle","size":28,"color":"#3D3D3D","opacity":1},"encoding":{"y":{"field":"obs","type":"quantitative"}}},
     {"transform":[{"fold":["marzo_2022","septiembre_2021"],"as":["asesoria","valor"]},{"filter":"datum.valor != null"}],
      "mark":{"type":"line","strokeWidth":1.6},
      "encoding":{"y":{"field":"valor","type":"quantitative"},
       "color":{"field":"asesoria","type":"nominal","legend":{"title":"Asesoría","orient":"none","legendX":903,"legendY":205}},
       "strokeDash":{"field":"asesoria","type":"nominal","legend":{"title":"Asesoría","orient":"none","legendX":903,"legendY":205}}}}
    ]}
  ]}
 ]
},
{
 "title":{"text":"CRUCEROS DE VERANO","anchor":"start","fontSize":11.5,"offset":-2,"dx":31,"dy":-5},
 "spacing":5,
 "hconcat":[
  {"data":{"name":"edad"},"transform":[{"filter":"datum.year >= 1997 && datum.year <= 2002"}],
   "facet":{"row":{"field":"year","type":"ordinal","title":"Proporción","header":{"labels":false}}},
   "spacing":5,
   "spec":{"width":77,"height":69,"view":{"fill":"#FBFBFB","stroke":null},
    "layer":[
     {"transform":[{"filter":"datum.age == 0"}],"mark":{"type":"rect","color":"#D9D9D9"},
      "encoding":{"y":{"datum":1.01,"type":"quantitative","scale":{"domain":[-0.068,1.35],"nice":false,"zero":false},"axis":{"values":[0,0.25,0.5,0.75,1],"format":".2f","title":null,"grid":false,"tickColor":"#333333","labelColor":"#6E6E6E"}},"y2":{"datum":1.35}}},
     {"transform":[{"filter":"datum.age == 0"}],"mark":{"type":"text","fontSize":8,"color":"#1A1A1A","baseline":"middle"},
      "encoding":{"y":{"datum":1.18,"type":"quantitative","axis":{"values":[0,0.25,0.5,0.75,1],"format":".2f","title":null,"grid":false,"tickColor":"#333333","labelColor":"#6E6E6E"}},"text":{"field":"year","type":"nominal"}}},
     {"mark":{"type":"bar","width":13,"fill":"#A6A6A6","stroke":"#5A5A5A","strokeWidth":1},
      "encoding":{"x":{"field":"age","type":"quantitative","scale":{"domain":[-0.7,4.7],"nice":false,"zero":false},"axis":{"values":[0,1,2,3,4],"format":"d","title":null,"grid":false,"tickColor":"#333333","labelColor":"#6E6E6E"}},
       "y":{"field":"obs","type":"quantitative","axis":{"values":[0,0.25,0.5,0.75,1],"format":".2f","title":null,"grid":false,"tickColor":"#333333","labelColor":"#6E6E6E"}}}},
     {"transform":[{"fold":["marzo_2022","septiembre_2021"],"as":["asesoria","prop"]},{"filter":"datum.prop != null"}],
      "mark":{"type":"line","strokeWidth":1},
      "encoding":{"x":{"field":"age","type":"quantitative","axis":{"values":[0,1,2,3,4],"format":"d","title":null,"grid":false,"tickColor":"#333333","labelColor":"#6E6E6E"}},"y":{"field":"prop","type":"quantitative","axis":{"values":[0,0.25,0.5,0.75,1],"format":".2f","title":null,"grid":false,"tickColor":"#333333","labelColor":"#6E6E6E"}},
       "color":{"field":"asesoria","type":"nominal","legend":{"title":"Asesoría","orient":"none","legendX":903,"legendY":205}},
       "strokeDash":{"field":"asesoria","type":"nominal","legend":{"title":"Asesoría","orient":"none","legendX":903,"legendY":205}}}}
    ]}},
  {"data":{"name":"edad"},"transform":[{"filter":"datum.year >= 2003 && datum.year <= 2008"}],
   "facet":{"row":{"field":"year","type":"ordinal","title":null,"header":{"labels":false}}},
   "spacing":5,
   "spec":{"width":77,"height":69,"view":{"fill":"#FBFBFB","stroke":null},
    "layer":[
     {"transform":[{"filter":"datum.age == 0"}],"mark":{"type":"rect","color":"#D9D9D9"},
      "encoding":{"y":{"datum":1.01,"type":"quantitative","scale":{"domain":[-0.068,1.35],"nice":false,"zero":false},"axis":{"labels":false,"ticks":false,"grid":false,"title":null}},"y2":{"datum":1.35}}},
     {"transform":[{"filter":"datum.age == 0"}],"mark":{"type":"text","fontSize":8,"color":"#1A1A1A","baseline":"middle"},
      "encoding":{"y":{"datum":1.18,"type":"quantitative","axis":{"labels":false,"ticks":false,"grid":false,"title":null}},"text":{"field":"year","type":"nominal"}}},
     {"mark":{"type":"bar","width":13,"fill":"#A6A6A6","stroke":"#5A5A5A","strokeWidth":1},
      "encoding":{"x":{"field":"age","type":"quantitative","scale":{"domain":[-0.7,4.7],"nice":false,"zero":false},"axis":{"values":[0,1,2,3,4],"format":"d","title":null,"grid":false,"tickColor":"#333333","labelColor":"#6E6E6E"}},
       "y":{"field":"obs","type":"quantitative","axis":{"labels":false,"ticks":false,"grid":false,"title":null}}}},
     {"transform":[{"fold":["marzo_2022","septiembre_2021"],"as":["asesoria","prop"]},{"filter":"datum.prop != null"}],
      "mark":{"type":"line","strokeWidth":1},
      "encoding":{"x":{"field":"age","type":"quantitative","axis":{"values":[0,1,2,3,4],"format":"d","title":null,"grid":false,"tickColor":"#333333","labelColor":"#6E6E6E"}},"y":{"field":"prop","type":"quantitative","axis":{"labels":false,"ticks":false,"grid":false,"title":null}},
       "color":{"field":"asesoria","type":"nominal","legend":{"title":"Asesoría","orient":"none","legendX":903,"legendY":205}},
       "strokeDash":{"field":"asesoria","type":"nominal","legend":{"title":"Asesoría","orient":"none","legendX":903,"legendY":205}}}}
    ]}},
  {"data":{"name":"edad"},"transform":[{"filter":"datum.year >= 2009 && datum.year <= 2014"}],
   "facet":{"row":{"field":"year","type":"ordinal","title":null,"header":{"labels":false}}},
   "spacing":5,
   "spec":{"width":77,"height":69,"view":{"fill":"#FBFBFB","stroke":null},
    "layer":[
     {"transform":[{"filter":"datum.age == 0"}],"mark":{"type":"rect","color":"#D9D9D9"},
      "encoding":{"y":{"datum":1.01,"type":"quantitative","scale":{"domain":[-0.068,1.35],"nice":false,"zero":false},"axis":{"labels":false,"ticks":false,"grid":false,"title":null}},"y2":{"datum":1.35}}},
     {"transform":[{"filter":"datum.age == 0"}],"mark":{"type":"text","fontSize":8,"color":"#1A1A1A","baseline":"middle"},
      "encoding":{"y":{"datum":1.18,"type":"quantitative","axis":{"labels":false,"ticks":false,"grid":false,"title":null}},"text":{"field":"year","type":"nominal"}}},
     {"mark":{"type":"bar","width":13,"fill":"#A6A6A6","stroke":"#5A5A5A","strokeWidth":1},
      "encoding":{"x":{"field":"age","type":"quantitative","scale":{"domain":[-0.7,4.7],"nice":false,"zero":false},"axis":{"values":[0,1,2,3,4],"format":"d","title":"Edad","grid":false,"tickColor":"#333333","labelColor":"#6E6E6E","titlePadding":0,"titleFontSize":10}},
       "y":{"field":"obs","type":"quantitative","axis":{"labels":false,"ticks":false,"grid":false,"title":null}}}},
     {"transform":[{"fold":["marzo_2022","septiembre_2021"],"as":["asesoria","prop"]},{"filter":"datum.prop != null"}],
      "mark":{"type":"line","strokeWidth":1},
      "encoding":{"x":{"field":"age","type":"quantitative","axis":{"values":[0,1,2,3,4],"format":"d","title":"Edad","grid":false,"tickColor":"#333333","labelColor":"#6E6E6E","titlePadding":0,"titleFontSize":10}},"y":{"field":"prop","type":"quantitative","axis":{"labels":false,"ticks":false,"grid":false,"title":null}},
       "color":{"field":"asesoria","type":"nominal","legend":{"title":"Asesoría","orient":"none","legendX":903,"legendY":205}},
       "strokeDash":{"field":"asesoria","type":"nominal","legend":{"title":"Asesoría","orient":"none","legendX":903,"legendY":205}}}}
    ]}},
  {"data":{"name":"edad"},"transform":[{"filter":"datum.year >= 2015 && datum.year <= 2020"}],
   "facet":{"row":{"field":"year","type":"ordinal","title":null,"header":{"labels":false}}},
   "spacing":5,
   "spec":{"width":77,"height":69,"view":{"fill":"#FBFBFB","stroke":null},
    "layer":[
     {"transform":[{"filter":"datum.age == 0"}],"mark":{"type":"rect","color":"#D9D9D9"},
      "encoding":{"y":{"datum":1.01,"type":"quantitative","scale":{"domain":[-0.068,1.35],"nice":false,"zero":false},"axis":{"labels":false,"ticks":false,"grid":false,"title":null}},"y2":{"datum":1.35}}},
     {"transform":[{"filter":"datum.age == 0"}],"mark":{"type":"text","fontSize":8,"color":"#1A1A1A","baseline":"middle"},
      "encoding":{"y":{"datum":1.18,"type":"quantitative","axis":{"labels":false,"ticks":false,"grid":false,"title":null}},"text":{"field":"year","type":"nominal"}}},
     {"mark":{"type":"bar","width":13,"fill":"#A6A6A6","stroke":"#5A5A5A","strokeWidth":1},
      "encoding":{"x":{"field":"age","type":"quantitative","scale":{"domain":[-0.7,4.7],"nice":false,"zero":false},"axis":{"values":[0,1,2,3,4],"format":"d","title":null,"grid":false,"tickColor":"#333333","labelColor":"#6E6E6E"}},
       "y":{"field":"obs","type":"quantitative","axis":{"labels":false,"ticks":false,"grid":false,"title":null}}}},
     {"transform":[{"fold":["marzo_2022","septiembre_2021"],"as":["asesoria","prop"]},{"filter":"datum.prop != null"}],
      "mark":{"type":"line","strokeWidth":1},
      "encoding":{"x":{"field":"age","type":"quantitative","axis":{"values":[0,1,2,3,4],"format":"d","title":null,"grid":false,"tickColor":"#333333","labelColor":"#6E6E6E"}},"y":{"field":"prop","type":"quantitative","axis":{"labels":false,"ticks":false,"grid":false,"title":null}},
       "color":{"field":"asesoria","type":"nominal","legend":{"title":"Asesoría","orient":"none","legendX":903,"legendY":205}},
       "strokeDash":{"field":"asesoria","type":"nominal","legend":{"title":"Asesoría","orient":"none","legendX":903,"legendY":205}}}}
    ]}},
  {"data":{"name":"edad"},"transform":[{"filter":"datum.year >= 2021"}],
   "facet":{"row":{"field":"year","type":"ordinal","title":null,"header":{"labels":false}}},
   "spacing":5,
   "spec":{"width":77,"height":69,"view":{"fill":"#FBFBFB","stroke":null},
    "layer":[
     {"transform":[{"filter":"datum.age == 0"}],"mark":{"type":"rect","color":"#D9D9D9"},
      "encoding":{"y":{"datum":1.01,"type":"quantitative","scale":{"domain":[-0.068,1.35],"nice":false,"zero":false},"axis":{"labels":false,"ticks":false,"grid":false,"title":null}},"y2":{"datum":1.35}}},
     {"transform":[{"filter":"datum.age == 0"}],"mark":{"type":"text","fontSize":8,"color":"#1A1A1A","baseline":"middle"},
      "encoding":{"y":{"datum":1.18,"type":"quantitative","axis":{"labels":false,"ticks":false,"grid":false,"title":null}},"text":{"field":"year","type":"nominal"}}},
     {"mark":{"type":"bar","width":13,"fill":"#A6A6A6","stroke":"#5A5A5A","strokeWidth":1},
      "encoding":{"x":{"field":"age","type":"quantitative","scale":{"domain":[-0.7,4.7],"nice":false,"zero":false},"axis":{"values":[0,1,2,3,4],"format":"d","title":null,"grid":false,"tickColor":"#333333","labelColor":"#6E6E6E"}},
       "y":{"field":"obs","type":"quantitative","axis":{"labels":false,"ticks":false,"grid":false,"title":null}}}},
     {"transform":[{"fold":["marzo_2022","septiembre_2021"],"as":["asesoria","prop"]},{"filter":"datum.prop != null"}],
      "mark":{"type":"line","strokeWidth":1},
      "encoding":{"x":{"field":"age","type":"quantitative","axis":{"values":[0,1,2,3,4],"format":"d","title":null,"grid":false,"tickColor":"#333333","labelColor":"#6E6E6E"}},"y":{"field":"prop","type":"quantitative","axis":{"labels":false,"ticks":false,"grid":false,"title":null}},
       "color":{"field":"asesoria","type":"nominal","legend":{"title":"Asesoría","orient":"none","legendX":903,"legendY":205}},
       "strokeDash":{"field":"asesoria","type":"nominal","legend":{"title":"Asesoría","orient":"none","legendX":903,"legendY":205}}}}
    ]}}
 ]
}
]
}
